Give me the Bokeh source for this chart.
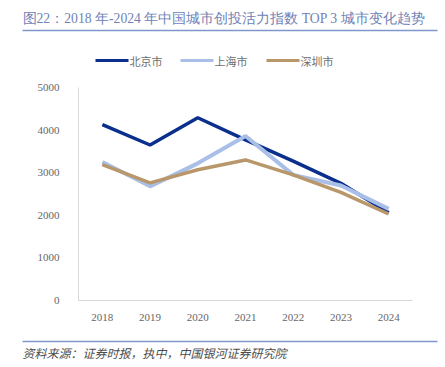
from bokeh.plotting import figure
from bokeh.models import Label, BoxAnnotation, FixedTicker, Range1d
from bokeh.layouts import column
from bokeh.embed import file_html
from bokeh.resources import INLINE

years = ["2018", "2019", "2020", "2021", "2022", "2023", "2024"]
beijing = [4130, 3650, 4290, 3770, 3270, 2750, 2060]
shanghai = [3250, 2680, 3220, 3860, 2950, 2700, 2150]
shenzhen = [3190, 2760, 3070, 3300, 2950, 2540, 2030]
names = ["北京市", "上海市", "深圳市"]
colors = ["#0b2f8c", "#a9bfe7", "#b8976a"]
widths = [3.5, 4, 3.5]
y_ticks = [0, 1000, 2000, 3000, 4000, 5000]

title_text = "图22：2018 年-2024 年中国城市创投活力指数 TOP 3 城市变化趋势"
source_text = "资料来源：证券时报，执中，中国银河证券研究院"

FONT = "Liberation Serif"
W = 445


def blank(h):
    f = figure(width=W, height=h, x_range=Range1d(0, 1), y_range=Range1d(0, 1),
               output_backend="svg", toolbar_location=None,
               min_border=0, min_border_left=0, min_border_right=0,
               min_border_top=0, min_border_bottom=0)
    f.axis.visible = False
    f.grid.visible = False
    f.outline_line_color = None
    f.background_fill_color = "white"
    f.border_fill_color = "white"
    return f


def hbar(f, x0, x1, y, t, color):
    f.add_layout(BoxAnnotation(left=x0, right=x1, bottom=y - t / 2, top=y + t / 2,
                               left_units="screen", right_units="screen",
                               bottom_units="screen", top_units="screen",
                               fill_color=color, fill_alpha=1, line_color=None))


# ---- top: title + legend
top = blank(78)
top.add_layout(Label(x=22, y=60, x_units="screen", y_units="screen", text=title_text,
                     text_font=FONT, text_font_size="13.7px", text_color="#6f82b6",
                     text_baseline="middle"))
hbar(top, 22, 437, 48, 1.5, "#7f98cc")
leg_x = [95, 180, 266]
for x0, n, c in zip(leg_x, names, colors):
    hbar(top, x0, x0 + 33, 18, 3.2, c)
    top.add_layout(Label(x=x0 + 34, y=18, x_units="screen", y_units="screen", text=n,
                         text_font="Noto Sans CJK SC", text_font_size="11px",
                         text_color="#6e6e6e", text_baseline="middle"))

# ---- main chart
p = figure(width=W, height=252, x_range=years, y_range=Range1d(0, 5000),
           output_backend="svg", toolbar_location=None,
           min_border_left=78, min_border_right=33, min_border_top=9,
           min_border_bottom=30)
p.outline_line_color = None
p.xgrid.grid_line_color = None
p.ygrid.grid_line_color = None
p.background_fill_color = "white"
p.border_fill_color = "white"

for ax in (p.xaxis[0], p.yaxis[0]):
    ax.axis_line_color = "#d9d9d9"
    ax.major_tick_line_color = None
    ax.minor_tick_line_color = None
    ax.major_label_text_font = FONT
    ax.major_label_text_font_size = "11px"
    ax.major_label_text_color = "#666666"
p.yaxis[0].ticker = FixedTicker(ticks=y_ticks)
p.yaxis[0].major_label_standoff = 13
p.xaxis[0].major_label_standoff = 7

for series, c, w in zip([beijing, shanghai, shenzhen], colors, widths):
    p.line(years, series, line_color=c, line_width=w)

# ---- bottom: source
bot = blank(37)
hbar(bot, 22, 437, 26, 1.5, "#7f98cc")
bot.add_layout(Label(x=22, y=15, x_units="screen", y_units="screen", text=source_text,
                     text_font="Noto Sans CJK SC", text_font_size="12px",
                     text_font_style="italic", text_color="#4d4d4d",
                     text_baseline="middle"))

layout = column(column(top), p, column(bot), spacing=0)
open("out.html", "w").write(file_html(layout, INLINE))
